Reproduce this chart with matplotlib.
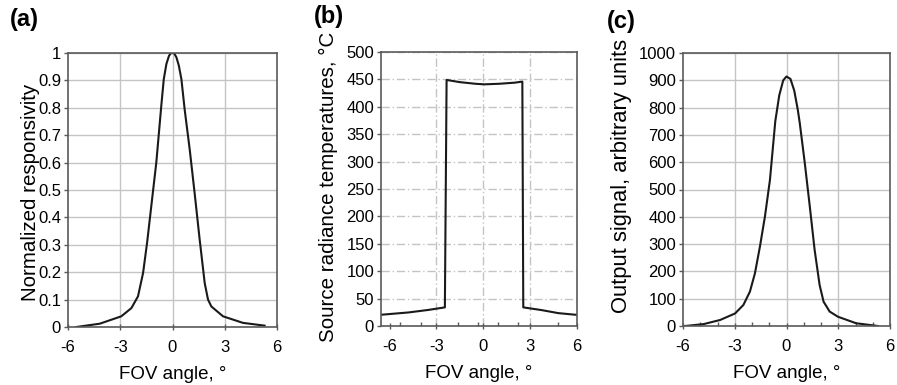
import matplotlib
matplotlib.use("Agg")
from matplotlib import pyplot as plt
import numpy as np

plt.rcParams['font.family'] = ['Liberation Sans', 'DejaVu Sans']

# (a) normalized responsivity vs FOV angle
ang_a = [-5.52, -4.18, -2.94, -2.36, -1.98, -1.69, -1.46, -1.22, -0.93, -0.64, -0.5, -0.35, -0.2, -0.08,
         0.08, 0.22, 0.36, 0.51, 0.70, 0.99, 1.27, 1.56, 1.85, 2.04, 2.23, 2.90, 4.05, 5.29]
resp_a = [0.0, 0.012, 0.039, 0.069, 0.112, 0.197, 0.307, 0.44, 0.60, 0.81, 0.905, 0.96, 0.99, 1.0,
          1.0, 0.985, 0.955, 0.905, 0.793, 0.647, 0.489, 0.319, 0.16, 0.10, 0.075, 0.039, 0.015, 0.005]

# (b) source radiance temperature
ang_b = [-6.55, -4.8, -3.5, -2.46, -2.35, -1.5, -0.5, 0.06, 1.0, 2.0, 2.5, 2.56, 3.74, 4.8, 5.87, 6.0]
temp_b = [20.5, 24.7, 29.4, 34, 449, 445, 442, 441, 442, 444, 446, 34, 29, 23.5, 20.6, 20.5]

# (c) output signal
ang_c = [-5.87, -4.8, -3.85, -2.98, -2.5, -2.12, -1.83, -1.54, -1.25, -0.96, -0.65, -0.42, -0.19, 0.0,
         0.23, 0.45, 0.66, 0.77, 1.06, 1.35, 1.63, 1.92, 2.15, 2.5, 2.98, 4.04, 5.3]
sig_c = [0, 7, 22, 46, 77, 126, 193, 291, 401, 535, 750, 845, 900, 914,
         905, 862, 790, 743, 597, 438, 279, 150, 89, 53, 34, 10, 0]

xticks = [-6, -3, 0, 3, 6]
xgrid = [-3, 0, 3]
b_minor = [-5.35, -4.02, -1.6, -0.32, 0.96, 2.24, 4.8]

W, H = 897, 385
fig = plt.figure(figsize=(W / 100, H / 100), dpi=100)

def box(l, t, r, b):
    return [l / W, 1 - b / H, (r - l) / W, (b - t) / H]

def ylab(x, y, s, fs):
    fig.text(x / W, 1 - y / H, s, rotation=90, ha='center', va='center', fontsize=fs)

spine_c = '#5a5a5a'
grid_c = '#c4c4c4'
tick_fs = 12

def style(ax, grid_ls):
    for s in ax.spines.values():
        s.set_color(spine_c)
        s.set_linewidth(1.2)
    ax.tick_params(axis='y', direction='out', length=3, width=1, color=spine_c, pad=2, labelsize=tick_fs)
    ax.tick_params(axis='x', which='major', direction='inout', length=5, width=1, color=spine_c, pad=7, labelsize=tick_fs)
    ax.tick_params(axis='x', which='minor', direction='in', length=3, width=1, color=spine_c)
    ax.grid(True, axis='y', color=grid_c, linewidth=1.0, linestyle=grid_ls)
    for g in xgrid:
        ax.axvline(g, color=grid_c, linewidth=1.0, linestyle=grid_ls, zorder=0.5)
    ax.set_axisbelow(True)
    ax.set_xticks(xticks)
    ax.set_xticklabels([str(v) for v in xticks])
    ax.set_xlabel('FOV angle, \u00b0', fontsize=13.5, labelpad=8)

# (a)
ax1 = fig.add_axes(box(68, 53, 277, 327))
ax1.plot(ang_a, resp_a, color='#1a1a1a', lw=1.5)
ax1.set_xlim(-6, 6)
ax1.set_ylim(0, 1)
style(ax1, '-')
yt = np.round(np.arange(0, 1.01, 0.1), 1)
ax1.set_yticks(yt)
ax1.set_yticklabels(['0' if v == 0 else ('1' if v == 1 else f'{v:.1f}') for v in yt])
ylab(30, 192, 'Normalized responsivity', 14.8)
fig.text(10 / W, 1 - 8 / H, '(a)', fontsize=17, fontweight='bold', va='top', ha='left')

# (b)
ax2 = fig.add_axes(box(381, 52, 577, 326))
ax2.plot(ang_b, temp_b, color='#1a1a1a', lw=1.5)
ax2.set_xlim(-6.55, 6)
ax2.set_ylim(0, 500)
style(ax2, (0, (6, 2, 1, 2)))
ax2.set_yticks(np.arange(0, 501, 50))
ax2.set_xticks(b_minor, minor=True)
ylab(328, 187, 'Source radiance temperatures, \u00b0C', 14.8)
fig.text(314 / W, 1 - 5 / H, '(b)', fontsize=17, fontweight='bold', va='top', ha='left')

# (c)
ax3 = fig.add_axes(box(683, 53, 890, 326))
ax3.plot(ang_c, sig_c, color='#1a1a1a', lw=1.5)
ax3.set_xlim(-6, 6)
ax3.set_ylim(0, 1000)
style(ax3, '-')
ax3.set_yticks(np.arange(0, 1001, 100))
ax3.set_xticks([-5, -4, -2, -1, 1, 2, 4, 5], minor=True)
ylab(622, 176, 'Output signal, arbitrary units', 15.8)
fig.text(607 / W, 1 - 10 / H, '(c)', fontsize=17, fontweight='bold', va='top', ha='left')

fig.savefig('out.png', dpi=100)
